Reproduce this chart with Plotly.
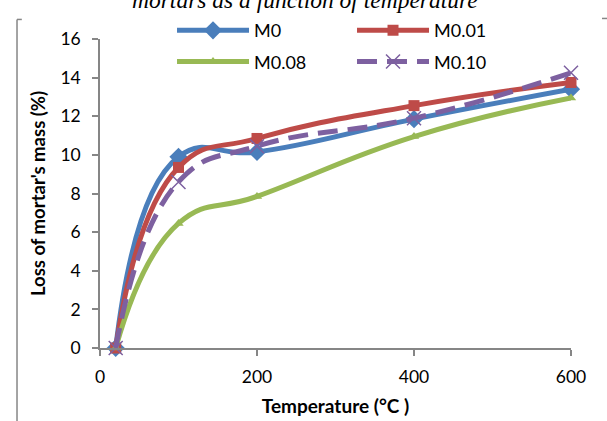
import plotly.graph_objects as go

temperature = [20, 100, 200, 400, 600]
m0 = [0, 9.9, 10.15, 11.85, 13.4]
m0_01 = [0, 9.35, 10.85, 12.55, 13.75]
m0_08 = [0, 6.45, 7.85, 10.95, 12.95]
m0_10 = [0, 8.6, 10.45, 11.9, 14.25]

FONT = "Lato"
AXIS_GRAY = "#868686"

fig = go.Figure()
fig.add_trace(go.Scatter(x=temperature, y=m0, name="M0", mode="lines+markers",
                         line=dict(color="#4A7EBB", width=5, shape="spline", smoothing=1.3),
                         marker=dict(symbol="diamond", size=14, color="#4A7EBB"),
                         cliponaxis=False, legend="legend"))
fig.add_trace(go.Scatter(x=temperature, y=m0_01, name="M0.01", mode="lines+markers",
                         line=dict(color="#BE4B48", width=5, shape="spline", smoothing=1.3),
                         marker=dict(symbol="square", size=11, color="#BE4B48"),
                         cliponaxis=False, legend="legend"))
fig.add_trace(go.Scatter(x=temperature, y=m0_08, name="M0.08", mode="lines+markers",
                         line=dict(color="#98B954", width=5, shape="spline", smoothing=1.3),
                         marker=dict(symbol="triangle-up", size=9, color="#98B954"),
                         cliponaxis=False, legend="legend2"))
fig.add_trace(go.Scatter(x=temperature, y=m0_10, name="M0.10", mode="lines+markers",
                         line=dict(color="#7D60A0", width=5, shape="spline", smoothing=1.3,
                                   dash="20px,10px"),
                         marker=dict(symbol="x-thin", size=14, color="#7D60A0",
                                     line=dict(color="#7D60A0", width=1.5)),
                         cliponaxis=False, legend="legend2"))

axis_common = dict(showgrid=False, zeroline=False, showline=True, linecolor=AXIS_GRAY,
                   linewidth=1.5, ticks="outside", ticklen=6, tickcolor=AXIS_GRAY,
                   tickwidth=1.5, automargin=False,
                   tickfont=dict(family=FONT, size=17.5, color="black"))

legend_common = dict(orientation="h", xanchor="left", yanchor="middle",
                     entrywidth=93, entrywidthmode="pixels", itemwidth=72,
                     font=dict(family=FONT, size=18), bgcolor="rgba(0,0,0,0)")

fig.update_layout(
    width=607, height=421,
    margin=dict(l=100, r=36, t=32, b=73),
    paper_bgcolor="white", plot_bgcolor="white",
    font=dict(family=FONT, color="black"),
    xaxis=dict(range=[0, 600], dtick=200, ticklabelstandoff=6,
               title=dict(text="<b>Temperature (°C )</b>", font=dict(family=FONT, size=19),
                          standoff=14),
               **axis_common),
    yaxis=dict(range=[0, 16], dtick=2, ticklabelstandoff=8,
               title=dict(text="<b>Loss of mortar's mass (%)</b>", font=dict(family=FONT, size=18.5),
                          standoff=10),
               **axis_common),
    legend=dict(x=0.1529, y=1.027, **legend_common),
    legend2=dict(x=0.1529, y=0.926, **legend_common),
    showlegend=True,
)

fig.add_annotation(text="<i>mortars as a function of temperature</i>", xref="paper", yref="paper",
                   x=0.435, y=1.127, xanchor="center", yanchor="middle", showarrow=False,
                   font=dict(family="Liberation Serif", size=23.5, color="black"))

# frame fragments from the cropped page
fig.add_shape(type="line", xref="paper", yref="paper", x0=-0.1762, x1=-0.1762, y0=1.0633, y1=-0.25,
              line=dict(color=AXIS_GRAY, width=1.5))
fig.add_shape(type="line", xref="paper", yref="paper", x0=-0.1762, x1=-0.166, y0=1.0633, y1=1.0633,
              line=dict(color=AXIS_GRAY, width=1.5))
fig.add_shape(type="line", xref="paper", yref="paper", x0=1.0658, x1=1.08, y0=1.0665, y1=1.0665,
              line=dict(color=AXIS_GRAY, width=1.5))

fig.write_html("out.html", config={"displayModeBar": False},
               post_script="document.body.style.margin='0px';")
